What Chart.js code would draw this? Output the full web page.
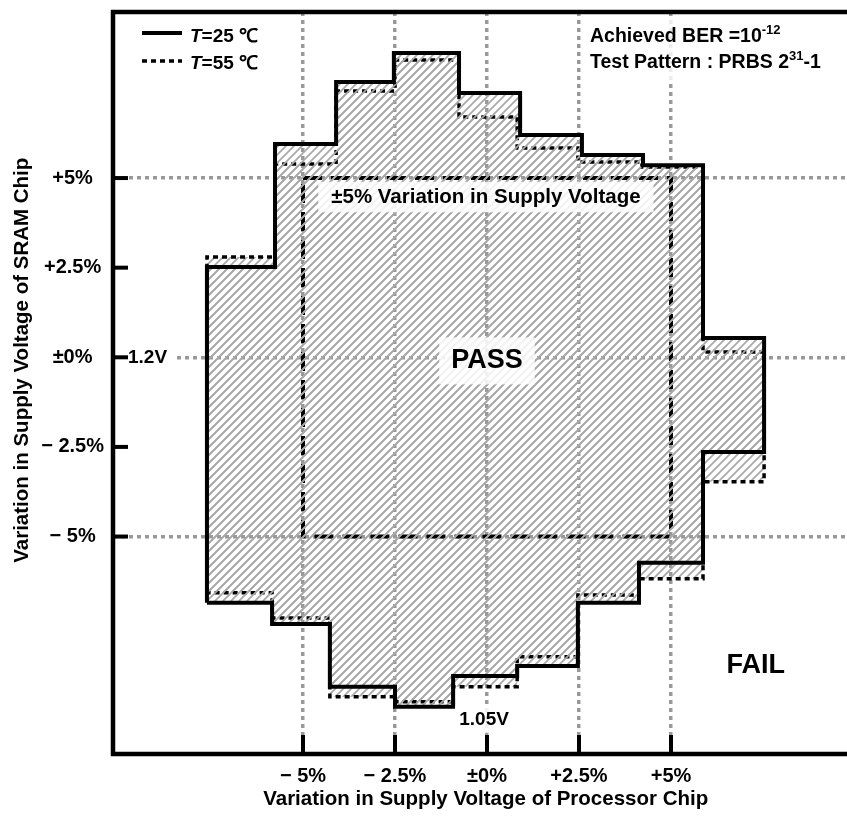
<!DOCTYPE html>
<html>
<head>
<meta charset="utf-8">
<script src="https://cdn.jsdelivr.net/npm/chart.js@4.4.1/dist/chart.umd.min.js"></script>
<style>
  html, body { margin: 0; padding: 0; background: #fff; }
</style>
</head>
<body>
<canvas id="chart" width="847" height="817"></canvas>
<script>
// Pass region outline at T=25C (solid), traced clockwise, values in %
const pass25X = [-7.61, -7.61, -5.76, -5.76, -4.10, -4.10, -2.53, -2.53, -0.76, -0.76, 0.90, 0.90,
                 2.58, 2.58, 4.24, 4.24, 5.87, 5.87, 7.53, 7.53, 5.87, 5.87, 4.13, 4.13, 2.47, 2.47,
                 0.82, 0.82, -0.92, -0.92, -2.50, -2.50, -4.27, -4.27, -5.84, -5.84, -7.61];
const pass25Y = [-6.85, 2.52, 2.52, 5.95, 5.95, 7.68, 7.68, 8.49, 8.49, 7.37, 7.37, 6.20,
                 6.20, 5.64, 5.64, 5.36, 5.36, 0.54, 0.54, -2.64, -2.64, -5.73, -5.73, -6.85, -6.85, -8.61,
                 -8.61, -8.89, -8.89, -9.75, -9.75, -9.19, -9.19, -7.44, -7.44, -6.85, -6.85];

// Pass region outline at T=55C (dotted)
const pass55X = [-7.61, -7.61, -5.76, -5.76, -4.10, -4.10, -2.50, -2.50, -0.76, -0.76, 0.82, 0.82,
                 2.47, 2.47, 4.21, 4.21, 5.87, 5.87, 7.53, 7.53, 5.87, 5.87, 4.13, 4.13, 2.47, 2.47,
                 0.82, 0.82, -0.92, -0.92, -2.50, -2.50, -4.27, -4.27, -5.84, -5.84, -7.61];
const pass55Y = [-6.57, 2.80, 2.80, 5.39, 5.39, 7.43, 7.43, 8.29, 8.29, 6.70, 6.70, 5.84,
                 5.84, 5.45, 5.45, 5.31, 5.31, 0.15, 0.15, -3.47, -3.47, -6.18, -6.18, -6.63, -6.63, -8.35,
                 -8.35, -9.19, -9.19, -9.61, -9.61, -9.47, -9.47, -7.27, -7.27, -6.57, -6.57];

// +-5% supply specification box
const specX = [-5, 5, 5, -5, -5];
const specY = [5, 5, -5, -5, 5];

const tickValues = [-5, -2.5, 0, 2.5, 5];
const xTickLabels = ['\u2212 5%', '\u2212 2.5%', '\u00b10%', '+2.5%', '+5%'];
const yTickLabels = ['\u2212 5%', '\u2212 2.5%', '\u00b10%', '+2.5%', '+5%'];

const FONT = "'Liberation Sans', Arial, Helvetica, sans-serif";

function points(xs, ys) {
    return xs.map((x, i) => ({ x: x, y: ys[i] }));
}

function makeHatch(ctx) {
    const c = document.createElement('canvas');
    c.width = 8;
    c.height = 8;
    const g = c.getContext('2d');
    g.strokeStyle = '#a8a8a8';
    g.lineWidth = 1.7;
    g.beginPath();
    g.moveTo(-1, 9); g.lineTo(9, -1);
    g.moveTo(-1, 1); g.lineTo(1, -1);
    g.moveTo(7, 9); g.lineTo(9, 7);
    g.stroke();
    return ctx.createPattern(c, 'repeat');
}

function textRuns(ctx, x, y, runs) {
    runs.forEach(r => {
        ctx.font = (r.italic ? 'italic ' : '') + 'bold ' + r.size + 'px ' + FONT;
        ctx.fillText(r.t, x, y + (r.dy || 0));
        x += ctx.measureText(r.t).width;
    });
}

function boxedText(ctx, text, cx, cy, size, padX, padY) {
    ctx.font = 'bold ' + size + 'px ' + FONT;
    const w = ctx.measureText(text).width;
    ctx.fillStyle = 'rgba(255,255,255,0.85)';
    ctx.fillRect(cx - w / 2 - padX, cy - size / 2 - padY, w + padX * 2, size + padY * 2);
    ctx.fillStyle = '#000';
    ctx.textAlign = 'center';
    ctx.textBaseline = 'middle';
    ctx.fillText(text, cx, cy);
}

const decorations = {
    id: 'decorations',
    afterDatasetsDraw(chart) {
        const { ctx, chartArea: a, scales: { x, y } } = chart;
        ctx.save();
        boxedText(ctx, '\u00b15% Variation in Supply Voltage', x.getPixelForValue(-0.03), y.getPixelForValue(4.47), 20.5, 13, 5);
        boxedText(ctx, 'PASS', x.getPixelForValue(0), y.getPixelForValue(-0.1), 27, 12, 10);
        boxedText(ctx, 'FAIL', x.getPixelForValue(7.3), y.getPixelForValue(-8.6), 27, 12, 10);
        boxedText(ctx, '1.05V', x.getPixelForValue(-0.08), y.getPixelForValue(-10.1), 19, 4, 4);

        // 1.2V marker on the SRAM axis
        ctx.font = 'bold 19px ' + FONT;
        ctx.fillStyle = '#fff';
        ctx.fillRect(a.left + 3, y.getPixelForValue(0) - 10, 58, 20);
        ctx.fillStyle = '#000';
        ctx.textAlign = 'left';
        ctx.textBaseline = 'middle';
        ctx.fillText('1.2V', a.left + 15, y.getPixelForValue(0));

        // note box, top right
        ctx.fillStyle = 'rgba(255,255,255,0.8)';
        ctx.fillRect(a.left + 472, a.top + 6, 300, 64);
        ctx.fillStyle = '#000';
        ctx.textBaseline = 'alphabetic';
        textRuns(ctx, a.left + 477, a.top + 30, [
            { t: 'Achieved BER =10', size: 19.5 },
            { t: '-12', size: 13, dy: -8 }
        ]);
        textRuns(ctx, a.left + 477, a.top + 56, [
            { t: 'Test Pattern : PRBS 2', size: 19.5 },
            { t: '31', size: 13, dy: -8 },
            { t: '-1', size: 19.5 }
        ]);

        // legend
        ctx.strokeStyle = '#000';
        ctx.lineWidth = 4;
        ctx.beginPath();
        ctx.moveTo(a.left + 29, a.top + 21);
        ctx.lineTo(a.left + 69, a.top + 21);
        ctx.stroke();
        ctx.setLineDash([5, 4]);
        ctx.lineWidth = 3.5;
        ctx.beginPath();
        ctx.moveTo(a.left + 29, a.top + 49);
        ctx.lineTo(a.left + 69, a.top + 49);
        ctx.stroke();
        ctx.setLineDash([]);
        textRuns(ctx, a.left + 77, a.top + 30, [
            { t: 'T', size: 19, italic: true },
            { t: '=25 \u2103', size: 19 }
        ]);
        textRuns(ctx, a.left + 77, a.top + 57, [
            { t: 'T', size: 19, italic: true },
            { t: '=55 \u2103', size: 19 }
        ]);
        ctx.restore();
    },
    afterDraw(chart) {
        const { ctx, chartArea: a, scales: { x, y } } = chart;
        ctx.save();
        ctx.strokeStyle = '#000';
        ctx.lineCap = 'butt';
        // inward tick marks
        ctx.lineWidth = 4;
        tickValues.forEach(v => {
            const px = x.getPixelForValue(v);
            ctx.beginPath();
            ctx.moveTo(px, a.bottom);
            ctx.lineTo(px, a.bottom - 19);
            ctx.stroke();
            const py = y.getPixelForValue(v);
            ctx.beginPath();
            ctx.moveTo(a.left, py);
            ctx.lineTo(a.left + 15, py);
            ctx.stroke();
        });
        // frame (no right edge in the original crop)
        ctx.lineWidth = 4.5;
        ctx.beginPath();
        ctx.moveTo(a.right, a.top);
        ctx.lineTo(a.left, a.top);
        ctx.lineTo(a.left, a.bottom);
        ctx.lineTo(a.right, a.bottom);
        ctx.stroke();
        ctx.restore();
    }
};

function noPadding(s) {
    s.paddingTop = 0;
    s.paddingBottom = 0;
    s.paddingLeft = 0;
    s.paddingRight = 0;
}

const ctx = document.getElementById('chart').getContext('2d');
const hatch = makeHatch(ctx);

new Chart(ctx, {
    type: 'line',
    data: {
        datasets: [
            {
                label: 'T=25',
                data: points(pass25X, pass25Y),
                borderColor: '#000',
                borderWidth: 4,
                backgroundColor: hatch,
                fill: 'shape',
                borderJoinStyle: 'miter'
            },
            {
                label: 'T=55',
                data: points(pass55X, pass55Y),
                borderColor: '#000',
                borderWidth: 3.5,
                borderDash: [5, 4],
                backgroundColor: hatch,
                fill: 'shape'
            },
            {
                label: 'spec',
                data: points(specX, specY),
                borderColor: '#000',
                borderWidth: 4,
                borderDash: [19, 9],
                fill: false
            }
        ]
    },
    options: {
        responsive: false,
        animation: false,
        devicePixelRatio: 1,
        layout: { padding: { top: 12, right: 0, bottom: 0, left: 0 } },
        elements: {
            point: { radius: 0, hoverRadius: 0 },
            line: { tension: 0 }
        },
        plugins: {
            legend: { display: false },
            tooltip: { enabled: false }
        },
        scales: {
            x: {
                type: 'linear',
                min: -10.163,
                max: 9.783,
                afterBuildTicks: s => { s.ticks = tickValues.map(v => ({ value: v })); },
                afterFit: s => { s.height = 63; noPadding(s); },
                grid: {
                    color: '#999',
                    lineWidth: 3.5,
                    drawTicks: false
                },
                border: { display: false, dash: [4, 4] },
                ticks: {
                    padding: 10,
                    color: '#000',
                    font: { family: FONT, weight: 'bold', size: 20 },
                    callback: v => xTickLabels[tickValues.indexOf(v)]
                },
                title: {
                    display: true,
                    // leading spaces nudge the centred title a little to the right
                    text: '  Variation in Supply Voltage of Processor Chip',
                    color: '#000',
                    font: { family: FONT, weight: 'bold', size: 20.5 },
                    padding: { top: 0, bottom: 5 }
                }
            },
            y: {
                type: 'linear',
                min: -11.066,
                max: 9.632,
                afterBuildTicks: s => { s.ticks = tickValues.map(v => ({ value: v })); },
                afterFit: s => { s.width = 113; noPadding(s); },
                grid: {
                    color: c => (Math.abs(c.tick.value) === 2.5 ? 'rgba(0,0,0,0)' : '#999'),
                    lineWidth: 3.5,
                    drawTicks: false
                },
                border: { display: false, dash: [4, 4] },
                ticks: {
                    padding: 9,
                    crossAlign: 'center',
                    color: '#000',
                    font: { family: FONT, weight: 'bold', size: 20 },
                    callback: v => yTickLabels[tickValues.indexOf(v)]
                },
                title: {
                    display: true,
                    // leading spaces nudge the rotated title up to where the original sits
                    text: '        Variation in Supply Voltage of SRAM Chip',
                    color: '#000',
                    font: { family: FONT, weight: 'bold', size: 20.5 },
                    padding: { top: 10, bottom: 0 }
                }
            }
        }
    },
    plugins: [decorations]
});
</script>
</body>
</html>
